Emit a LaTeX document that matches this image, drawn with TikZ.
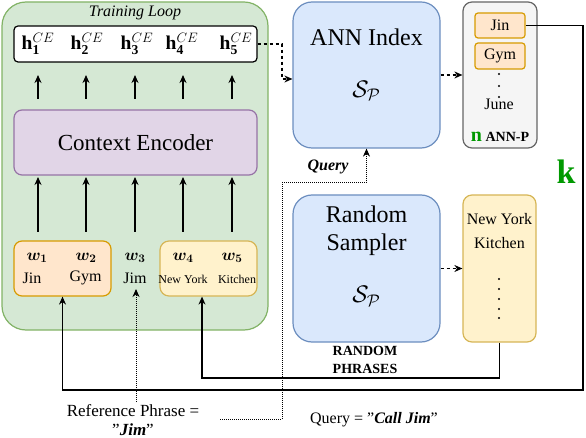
\RequirePackage{fix-cm}
\documentclass[tikz,border=0pt]{standalone}
\usepackage{amsmath,bm}
\usepackage{fontspec}
\setmainfont{Liberation Serif}
\usetikzlibrary{arrows.meta}
\definecolor{gfill}{HTML}{D5E8D4}\definecolor{gdraw}{HTML}{82B366}
\definecolor{pfill}{HTML}{E1D5E7}\definecolor{pdraw}{HTML}{9673A6}
\definecolor{ofill}{HTML}{FFE6CC}\definecolor{odraw}{HTML}{D79B00}
\definecolor{yfill}{HTML}{FFF2CC}\definecolor{ydraw}{HTML}{D6B656}
\definecolor{bfill}{HTML}{DAE8FC}\definecolor{bdraw}{HTML}{6C8EBF}
\definecolor{grfill}{HTML}{F5F5F5}\definecolor{grdraw}{HTML}{666666}
\definecolor{kgreen}{HTML}{009900}
\newcommand{\fsz}[2]{\fontsize{#1}{#2}\selectfont}
\newcommand{\hce}[1]{$\mathbf{h}_{\mathbf{#1}}^{CE}$}
\newcommand{\wb}[1]{$\bm{w_{#1}}$}
\begin{document}
\begin{tikzpicture}[x=1pt,y=-1pt,
  box/.style={draw, line width=1.2pt, inner sep=0pt, rectangle},
  greenbox/.style={box, fill=gfill, draw=gdraw, rounded corners=24pt},
  hboxst/.style={box, fill=white, draw=black, rounded corners=4pt},
  cebox/.style={box, fill=pfill, draw=pdraw, rounded corners=8pt},
  obox/.style={box, fill=ofill, draw=odraw, rounded corners=8pt},
  ybox/.style={box, fill=yfill, draw=ydraw, rounded corners=9pt},
  bbox/.style={box, fill=bfill, draw=bdraw, rounded corners=19pt},
  grbox/.style={box, fill=grfill, draw=grdraw, rounded corners=9pt},
  smallobox/.style={box, fill=ofill, draw=odraw, rounded corners=3pt, minimum width=50pt},
  lbl/.style={inner sep=0pt, text=black},
  arr/.style={-{Stealth[length=8pt,width=7pt]}, line width=1.3pt},
  dasharr/.style={arr, dash pattern=on 3pt off 3pt},
  dotarr/.style={arr, line width=1pt, dash pattern=on 1pt off 1pt},
  solidline/.style={arr, line width=1.2pt}
]
\useasboundingbox (0,0) rectangle (586,438);

% training loop
\node[greenbox, minimum width=266pt, minimum height=328pt] (loop) at (135,166) {};
\node[lbl, font=\fsz{16}{19}\itshape] (tl) at (135,13) {Training Loop};
\node[hboxst, minimum width=243pt, minimum height=36pt] (hbox) at (135.5,44) {};
\begin{scope}[every node/.style={lbl, font=\fsz{19.5}{22}}]
\node (h1) at (38,44) {\hce{1}};
\node (h2) at (87,44) {\hce{2}};
\node (h3) at (137,44) {\hce{3}};
\node (h4) at (182,44) {\hce{4}};
\node (h5) at (236,44) {\hce{5}};
\end{scope}
\node[cebox, minimum width=243pt, minimum height=65pt, font=\fsz{23}{27}] (ce) at (135.5,142.5) {Context Encoder};

\foreach \x in {38,86,135,183,232}{
  \coordinate (ua\x) at (\x,99);
  \coordinate (ub\x) at (\x,75);
  \draw[arr] (ua\x) -- (ub\x);
  \coordinate (la\x) at (\x,232);
  \coordinate (lb\x) at (\x,177);
  \draw[arr] (la\x) -- (lb\x);
}

\node[obox, minimum width=97pt, minimum height=55pt] (wb1) at (62.5,268.5) {};
\node[ybox, minimum width=97pt, minimum height=55pt] (wb2) at (208.5,268.5) {};
\begin{scope}[every node/.style={lbl, font=\fsz{16.5}{19}}]
\node (w1) at (37,258) {\wb{1}};
\node (w2) at (86,258) {\wb{2}};
\node (w3) at (135,258) {\wb{3}};
\node (w4) at (183,258) {\wb{4}};
\node (w5) at (232,258) {\wb{5}};
\end{scope}
\begin{scope}[every node/.style={lbl, font=\fsz{16}{19}}]
\node (t1) at (32,278) {Jin};
\node (t2) at (85.5,278) {Gym};
\node (t3) at (135,278) {Jim};
\end{scope}
\begin{scope}[every node/.style={lbl, font=\fsz{12}{14}}]
\node (t4) at (183,279) {New York};
\node (t5) at (237,279) {Kitchen};
\end{scope}

% ANN index
\node[bbox, minimum width=147pt, minimum height=146pt] (ann) at (366.5,75) {};
\node[lbl, font=\fsz{24}{28}] (annt) at (366.5,37) {ANN Index};
\node[lbl, font=\fsz{24}{28}] (anns) at (366.5,91) {$\mathcal{S}_{\mathcal{P}}$};

% ANN-P
\node[grbox, minimum width=74pt, minimum height=146pt] (annp) at (500,75) {};
\node[smallobox, minimum height=25pt, font=\fsz{16}{19}] (jin) at (500,25.5) {Jin};
\node[smallobox, minimum height=26pt, font=\fsz{16}{19}] (gym) at (500,56) {Gym};
\foreach \y in {74,86,97}{\fill (499,\y) circle (1.1pt);}
\node[lbl, font=\fsz{16}{19}] (june) at (499,104) {June};
\node[lbl, font=\fsz{14}{17}\bfseries] (annpl) at (500,137) {{\color{kgreen}\fsz{20}{22}n} ANN-P};
\node[lbl, anchor=base, font=\fsz{34}{38}\bfseries, text=kgreen] (k) at (566,184) {k};

% Random sampler
\node[bbox, minimum width=147pt, minimum height=147pt] (rs) at (366.5,268.5) {};
\node[lbl, font=\fsz{24}{28}, align=center] (rst) at (366.5,231) {Random\\Sampler};
\node[lbl, font=\fsz{24}{28}] (rss) at (366.5,296) {$\mathcal{S}_{\mathcal{P}}$};
\node[ybox, minimum width=73pt, minimum height=147pt] (rp) at (499.5,268.5) {};
\node[lbl, font=\fsz{16}{24}, align=center] (rpt) at (499.5,231.5) {New York\\Kitchen};
\foreach \y in {279,289,299,309,318}{\fill (499,\y) circle (1.1pt);}
\node[lbl, font=\fsz{14}{18}\bfseries, align=center] (rpl) at (365,360) {RANDOM\\PHRASES};

% bottom texts
\node[lbl, font=\fsz{17}{19.5}, align=center] (ref) at (133,420) {Reference Phrase =\\"\textbf{\textit{Jim}}"};
\node[lbl, font=\fsz{16}{19}] (qt) at (374,420) {Query = "\textbf{\textit{Call Jim}}"};
\node[lbl, font=\fsz{16}{19}\bfseries\itshape] (ql) at (328,167) {Query};

% connectors
\coordinate (hturn) at (282,44);
\draw[dasharr] (hbox.east) -- (hturn) |- ([yshift=-4pt]ann.west);
\draw[dasharr] (ann.east) -- (annp.west);
\draw[dasharr] (rs.east) -- (rp.west);

\coordinate (c1) at (583,390);
\draw[solidline] (jin.east) -| (c1) -| (wb1.south);
\coordinate (c2) at (202,378);
\draw[solidline] (rp.south) |- (c2) -- ([xshift=-6.5pt]wb2.south);

\coordinate (rtop) at (136,402);
\coordinate (rend) at (136,289);
\draw[dotarr] (rtop) -- (rend);

\coordinate (q0) at (220,419);
\coordinate (qc) at (282,183);
\draw[dotarr] (q0) -| (qc) -| (ann.south);
\end{tikzpicture}
\end{document}
